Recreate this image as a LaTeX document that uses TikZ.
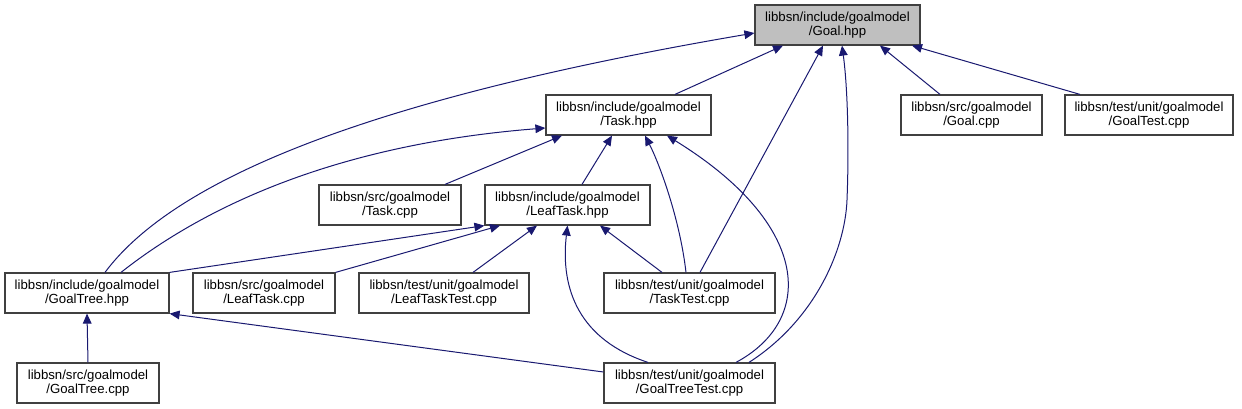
\documentclass[tikz,border=0pt]{standalone}
\usepackage{fontspec}
\setmainfont{Liberation Sans}
\usetikzlibrary{arrows.meta,calc}
\definecolor{edgeblue}{RGB}{25,25,112}
\definecolor{curgray}{RGB}{191,191,191}
\definecolor{boxline}{RGB}{64,64,64}

\begin{document}
\begin{tikzpicture}[
  x=0.75pt, y=-0.75pt,
  file/.style={rectangle, draw=boxline, line width=0.9pt, fill=white, align=center, minimum height=30pt, inner sep=0pt, font=\fontsize{9.9}{10}\selectfont},
  cur/.style={file, fill=curgray},
  arrow/.style={-{Triangle[length=7.5pt,width=6.5pt]}, draw=edgeblue, line width=0.75pt},
]
\useasboundingbox (0,0) rectangle (1242,409);

% === Included header ===
\node[cur, minimum width=123.75pt] (goalh) at (837.5,25) {libbsn/include/goalmodel\\/Goal.hpp};

% === Row 1 ===
\node[file, minimum width=123.75pt] (taskh)    at (628.5,115) {libbsn/include/goalmodel\\/Task.hpp};
\node[file, minimum width=105.75pt] (goalcpp)  at (971.5,115) {libbsn/src/goalmodel\\/Goal.cpp};
\node[file, minimum width=126pt]    (goaltest) at (1149,115)  {libbsn/test/unit/goalmodel\\/GoalTest.cpp};

% === Row 2 ===
\node[file, minimum width=106.5pt]  (taskcpp) at (390,205)   {libbsn/src/goalmodel\\/Task.cpp};
\node[file, minimum width=123.75pt] (leafh)   at (567.5,205) {libbsn/include/goalmodel\\/LeafTask.hpp};

% === Row 3 ===
\node[file, minimum width=123pt]    (treeh)    at (87,293)    {libbsn/include/goalmodel\\/GoalTree.hpp};
\node[file, minimum width=106.5pt]  (leafcpp)  at (264,293)   {libbsn/src/goalmodel\\/LeafTask.cpp};
\node[file, minimum width=127.5pt]  (leaftest) at (444,293)   {libbsn/test/unit/goalmodel\\/LeafTaskTest.cpp};
\node[file, minimum width=128.25pt] (tasktest) at (689.5,293) {libbsn/test/unit/goalmodel\\/TaskTest.cpp};

% === Row 4 ===
\node[file, minimum width=106.5pt]  (treecpp)  at (88,383)    {libbsn/src/goalmodel\\/GoalTree.cpp};
\node[file, minimum width=128.25pt] (treetest) at (689.5,383) {libbsn/test/unit/goalmodel\\/GoalTreeTest.cpp};

% === Edges to Goal.hpp ===
\draw[arrow] ($(taskh.north)+(46.5,0)$) -- ($(goalh.south)+(-54.5,0)$);
\draw[arrow] ($(treeh.north)+(18,0)$) .. controls (185,165) and (420,90) .. ($(goalh.west)+(0,8)$);
\draw[arrow] ($(tasktest.north)+(10.5,0)$) -- ($(goalh.south)+(-14.5,0)$);
\draw[arrow] ($(treetest.north)+(59.5,0)$) .. controls (815,320) and (845,250) .. (847,200)
  .. controls (849,150) and (848,90) .. ($(goalh.south)+(4.5,0)$);
\draw[arrow] ($(goalcpp.north)+(-31.5,0)$) -- ($(goalh.south)+(42.5,0)$);
\draw[arrow] ($(goaltest.north)+(-69,0)$) -- ($(goalh.south)+(74.5,0)$);

% === Edges to Task.hpp ===
\draw[arrow] ($(treeh.north)+(34,0)$) .. controls (200,210) and (330,145) .. ($(taskh.west)+(0,13)$);
\draw[arrow] ($(taskcpp.north)+(55,0)$) -- ($(taskh.south)+(-66.5,0)$);
\draw[arrow] ($(leafh.north)+(14.5,0)$) -- ($(taskh.south)+(-16.5,0)$);
\draw[arrow] ($(tasktest.north)+(-3.5,0)$) .. controls (680,220) and (660,165) .. ($(taskh.south)+(16.5,0)$);
\draw[arrow] ($(treetest.north)+(46.5,0)$) .. controls (815,320) and (812,225) .. ($(taskh.south)+(38.5,0)$);

% === Edges to LeafTask.hpp ===
\draw[arrow] (treeh.north east) -- (leafh.south west);
\draw[arrow] (leafcpp.north east) -- ($(leafh.south)+(-67.5,0)$);
\draw[arrow] ($(leaftest.north)+(29,0)$) -- ($(leafh.south)+(-30.5,0)$);
\draw[arrow] ($(tasktest.north)+(-27.5,0)$) -- ($(leafh.south)+(32.5,0)$);
\draw[arrow] ($(treetest.north)+(-41.5,0)$) .. controls (580,340) and (560,290) .. (leafh.south);

% === Edges to GoalTree.hpp ===
\draw[arrow] (treecpp.north) -- (treeh.south);
\draw[arrow] ($(treetest.west)+(0,-11)$) -- (treeh.south east);

\end{tikzpicture}
\end{document}
